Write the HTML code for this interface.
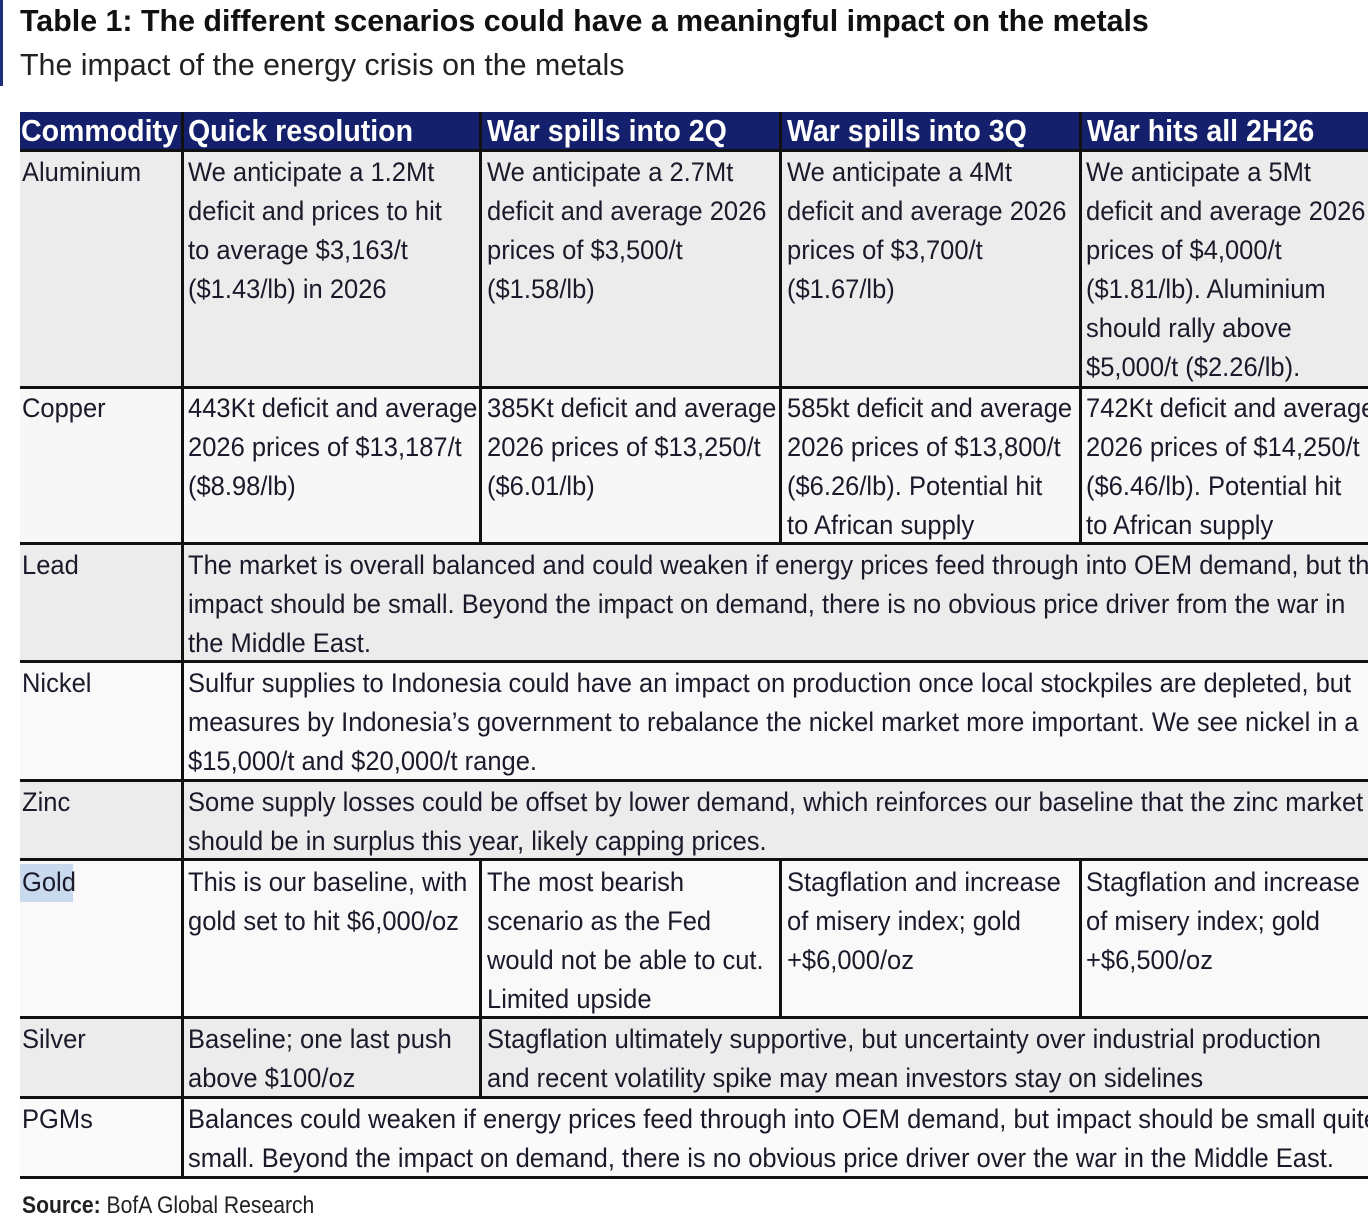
<!DOCTYPE html>
<html><head><meta charset="utf-8">
<style>
body{margin:0;width:1368px;height:1216px;background:#fff;position:relative;overflow:hidden;font-family:"Liberation Sans",sans-serif;color:#1a1a2a}
.abs{position:absolute}
.t{position:absolute;white-space:nowrap;font-size:27px;line-height:39px;transform:scaleX(.945);transform-origin:0 0}
.h{position:absolute;white-space:nowrap;font-size:31px;line-height:38px;font-weight:bold;color:#fff;transform:scaleX(.92);transform-origin:0 0;top:112px}
.hl{position:absolute;background:#111;height:3px}
.vl{position:absolute;background:#111;width:3px}
</style></head><body>
<div class="abs" style="left:0;top:0;width:3px;height:86px;background:#1d2f7a"></div>
<div class="abs" style="left:20px;top:3px;font-size:31px;font-weight:bold;white-space:nowrap;transform:scaleX(.98);transform-origin:0 0;color:#111">Table 1: The different scenarios could have a meaningful impact on the metals</div>
<div class="abs" style="left:20px;top:47px;font-size:31px;white-space:nowrap;transform:scaleX(.98);transform-origin:0 0;color:#222">The impact of the energy crisis on the metals</div>

<div class="abs" style="left:20px;top:112px;width:1348px;height:38px;background:#14206b"></div>
<div class="h" style="left:21px">Commodity</div>
<div class="h" style="left:188px">Quick resolution</div>
<div class="h" style="left:487px">War spills into 2Q</div>
<div class="h" style="left:787px">War spills into 3Q</div>
<div class="h" style="left:1087px">War hits all 2H26</div>

<div class="abs" style="left:20px;top:150px;width:1348px;height:237px;background:#ececec"></div>
<div class="abs" style="left:20px;top:387px;width:1348px;height:156px;background:#f7f7f7"></div>
<div class="abs" style="left:20px;top:543px;width:1348px;height:118px;background:#ececec"></div>
<div class="abs" style="left:20px;top:661px;width:1348px;height:119px;background:#f9f9f9"></div>
<div class="abs" style="left:20px;top:780px;width:1348px;height:79px;background:#ececec"></div>
<div class="abs" style="left:20px;top:859px;width:1348px;height:158px;background:#f9f9f9"></div>
<div class="abs" style="left:20px;top:1017px;width:1348px;height:80px;background:#ececec"></div>
<div class="abs" style="left:20px;top:1097px;width:1348px;height:80px;background:#fafafa"></div>
<div class="abs" style="left:20px;top:864px;width:53px;height:38px;background:#c9d9ee"></div>

<div class="hl" style="left:20px;top:149px;width:1348px"></div>
<div class="hl" style="left:20px;top:386px;width:1348px"></div>
<div class="hl" style="left:20px;top:542px;width:1348px"></div>
<div class="hl" style="left:20px;top:660px;width:1348px"></div>
<div class="hl" style="left:20px;top:779px;width:1348px"></div>
<div class="hl" style="left:20px;top:858px;width:1348px"></div>
<div class="hl" style="left:20px;top:1016px;width:1348px"></div>
<div class="hl" style="left:20px;top:1096px;width:1348px"></div>
<div class="hl" style="left:20px;top:1176px;width:1348px"></div>
<div class="vl" style="left:181px;top:112px;height:1066px"></div>
<div class="vl" style="left:479px;top:112px;height:431px"></div>
<div class="vl" style="left:479px;top:859px;height:238px"></div>
<div class="vl" style="left:779px;top:112px;height:431px"></div>
<div class="vl" style="left:779px;top:859px;height:158px"></div>
<div class="vl" style="left:1079px;top:112px;height:431px"></div>
<div class="vl" style="left:1079px;top:859px;height:158px"></div>

<div class="t" style="left:22px;top:153px">Aluminium</div>
<div class="t" style="left:22px;top:389px">Copper</div>
<div class="t" style="left:22px;top:546px">Lead</div>
<div class="t" style="left:22px;top:664px">Nickel</div>
<div class="t" style="left:22px;top:783px">Zinc</div>
<div class="t" style="left:22px;top:863px">Gold</div>
<div class="t" style="left:22px;top:1020px">Silver</div>
<div class="t" style="left:22px;top:1100px">PGMs</div>

<div class="t" style="left:188px;top:153px">We anticipate a 1.2Mt<br>deficit and prices to hit<br>to average $3,163/t<br>($1.43/lb) in 2026</div>
<div class="t" style="left:487px;top:153px">We anticipate a 2.7Mt<br>deficit and average 2026<br>prices of $3,500/t<br>($1.58/lb)</div>
<div class="t" style="left:787px;top:153px">We anticipate a 4Mt<br>deficit and average 2026<br>prices of $3,700/t<br>($1.67/lb)</div>
<div class="t" style="left:1086px;top:153px">We anticipate a 5Mt<br>deficit and average 2026<br>prices of $4,000/t<br>($1.81/lb). Aluminium<br>should rally above<br>$5,000/t ($2.26/lb).</div>

<div class="t" style="left:188px;top:389px">443Kt deficit and average<br>2026 prices of $13,187/t<br>($8.98/lb)</div>
<div class="t" style="left:487px;top:389px">385Kt deficit and average<br>2026 prices of $13,250/t<br>($6.01/lb)</div>
<div class="t" style="left:787px;top:389px">585kt deficit and average<br>2026 prices of $13,800/t<br>($6.26/lb). Potential hit<br>to African supply</div>
<div class="t" style="left:1086px;top:389px">742Kt deficit and average<br>2026 prices of $14,250/t<br>($6.46/lb). Potential hit<br>to African supply</div>

<div class="t" style="left:188px;top:546px">The market is overall balanced and could weaken if energy prices feed through into OEM demand, but the<br>impact should be small. Beyond the impact on demand, there is no obvious price driver from the war in<br>the Middle East.</div>
<div class="t" style="left:188px;top:664px">Sulfur supplies to Indonesia could have an impact on production once local stockpiles are depleted, but<br>measures by Indonesia’s government to rebalance the nickel market more important. We see nickel in a<br>$15,000/t and $20,000/t range.</div>
<div class="t" style="left:188px;top:783px">Some supply losses could be offset by lower demand, which reinforces our baseline that the zinc market<br>should be in surplus this year, likely capping prices.</div>

<div class="t" style="left:188px;top:863px">This is our baseline, with<br>gold set to hit $6,000/oz</div>
<div class="t" style="left:487px;top:863px">The most bearish<br>scenario as the Fed<br>would not be able to cut.<br>Limited upside</div>
<div class="t" style="left:787px;top:863px">Stagflation and increase<br>of misery index; gold<br>+$6,000/oz</div>
<div class="t" style="left:1086px;top:863px">Stagflation and increase<br>of misery index; gold<br>+$6,500/oz</div>

<div class="t" style="left:188px;top:1020px">Baseline; one last push<br>above $100/oz</div>
<div class="t" style="left:487px;top:1020px">Stagflation ultimately supportive, but uncertainty over industrial production<br>and recent volatility spike may mean investors stay on sidelines</div>
<div class="t" style="left:188px;top:1100px">Balances could weaken if energy prices feed through into OEM demand, but impact should be small quite<br>small. Beyond the impact on demand, there is no obvious price driver over the war in the Middle East.</div>

<div class="abs" style="left:22px;top:1192px;font-size:24px;white-space:nowrap;transform:scaleX(.88);transform-origin:0 0;color:#222"><b>Source:</b> BofA Global Research</div>
</body></html>
